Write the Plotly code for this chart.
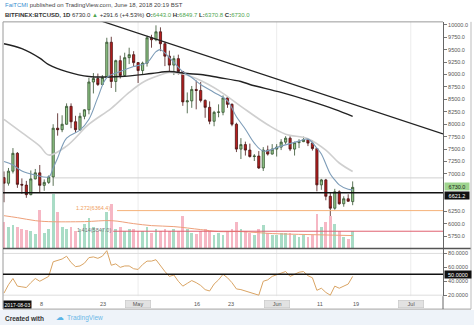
import plotly.graph_objects as go
import pandas as pd

W, H = 474, 327
FONT = "Liberation Sans, Arial, sans-serif"

# ---------------- data ----------------
dates = pd.date_range("2018-04-01", periods=79, freq="D")

opens = [6926, 6813, 7056, 7415, 6790, 6776, 6583, 6900, 7022, 6770,
         6830, 6940, 7920, 7890, 8000, 8360, 8050, 7890, 8160, 8290,
         8850, 8920, 8800, 8940, 9650, 8860, 9280, 8980, 9340, 9400,
         9240, 9080, 9230, 9740, 9700, 9860, 9620, 9370, 9190, 9320,
         9060, 8450, 8470, 8700, 8680, 8480, 8340, 8060, 8240, 8240,
         8530, 8400, 8000, 7500, 7590, 7480, 7350, 7360, 7120, 7480,
         7400, 7500, 7540, 7640, 7720, 7500, 7630, 7650, 7690, 7620,
         7510, 6780, 6880, 6550, 6310, 6640, 6400, 6500, 6443]
highs = [7050, 7120, 7520, 7440, 6910, 6860, 7070, 7100, 7180, 6890,
         6970, 8000, 8220, 8180, 8420, 8420, 8170, 8230, 8300, 8930,
         9030, 9020, 8990, 9740, 9760, 9300, 9380, 9440, 9540, 9470,
         9250, 9260, 9780, 9800, 9990, 9950, 9660, 9480, 9380, 9400,
         9070, 8640, 8770, 8880, 8850, 8500, 8460, 8270, 8400, 8580,
         8560, 8420, 8030, 7720, 7650, 7610, 7400, 7460, 7540, 7570,
         7600, 7600, 7700, 7760, 7760, 7650, 7700, 7750, 7700, 7680,
         7510, 6900, 6900, 6630, 6700, 6670, 6550, 6590, 6849.7]
lows = [6430, 6765, 7010, 6720, 6600, 6520, 6570, 6890, 6620, 6660,
        6800, 6760, 7770, 7840, 7990, 7920, 7830, 7870, 8100, 8200,
        8620, 8770, 8790, 8930, 8730, 8650, 8920, 8950, 9210, 9170,
        8830, 9000, 9160, 9540, 9670, 9470, 9170, 9050, 8990, 9000,
        8370, 8220, 8330, 8300, 8440, 8130, 8000, 7960, 8140, 8180,
        8330, 7960, 7440, 7300, 7370, 7330, 7260, 7100, 7060, 7370,
        7390, 7350, 7480, 7600, 7460, 7370, 7520, 7640, 7560, 7470,
        6650, 6680, 6470, 6110, 6280, 6380, 6340, 6440, 6370.8]
closes = [6813, 7056, 7415, 6790, 6776, 6583, 6900, 7022, 6770, 6830,
          6940, 7920, 7890, 8000, 8360, 8050, 7890, 8160, 8290, 8850,
          8920, 8800, 8940, 9650, 8860, 9280, 8980, 9340, 9400, 9240,
          9080, 9230, 9740, 9700, 9860, 9620, 9370, 9190, 9320, 9060,
          8450, 8470, 8700, 8680, 8480, 8340, 8060, 8240, 8245, 8530,
          8400, 8000, 7500, 7590, 7480, 7350, 7360, 7120, 7480, 7400,
          7500, 7540, 7640, 7720, 7500, 7630, 7650, 7690, 7620, 7510,
          6780, 6880, 6550, 6310, 6640, 6400, 6500, 6450, 6730]

volumes = [27, 22, 24, 22, 20, 19, 18, 15, 39, 16,
           20, 55, 37, 22, 20, 22, 18, 20, 25, 31,
           22, 18, 20, 37, 45, 20, 22, 18, 20, 20,
           18, 18, 22, 16, 20, 18, 20, 18, 20, 18,
           33, 20, 16, 15, 18, 20, 18, 14, 16, 14,
           18, 20, 27, 20, 18, 16, 14, 20, 24, 16,
           14, 14, 16, 16, 16, 14, 12, 14, 12, 14,
           35, 22, 27, 33, 25, 18, 12, 10, 18]

rsi = [23, 35, 44, 33, 32, 31, 38, 44, 40, 43,
       47, 68, 70, 72, 76, 67, 61, 62, 66, 74,
       75, 73, 76, 84, 63, 65, 60, 62, 62, 58,
       57, 64, 69, 69, 71, 62, 54, 47, 49, 40,
       33, 37, 41, 38, 34, 28, 26, 36, 42, 50,
       45, 38, 29, 28, 26, 25, 22, 20, 40, 42,
       47, 49, 52, 54, 47, 50, 53, 54, 48, 45,
       27, 30, 24, 20, 33, 30, 33, 36, 47]

ma_short_dates = ["2018-04-01", "2018-04-03", "2018-04-05", "2018-04-08", "2018-04-11",
                  "2018-04-12", "2018-04-13", "2018-04-15", "2018-04-18", "2018-04-20",
                  "2018-04-22", "2018-04-24", "2018-04-27", "2018-04-30", "2018-05-03",
                  "2018-05-05", "2018-05-06", "2018-05-08", "2018-05-11", "2018-05-13",
                  "2018-05-15", "2018-05-18", "2018-05-21", "2018-05-23", "2018-05-25",
                  "2018-05-27", "2018-05-29", "2018-06-02", "2018-06-06", "2018-06-08",
                  "2018-06-10", "2018-06-11", "2018-06-12", "2018-06-13", "2018-06-14",
                  "2018-06-15", "2018-06-17", "2018-06-18"]
ma_short = [7250, 7180, 7060, 6980, 6940, 7120, 7320, 7720, 7880, 8100,
            8540, 8940, 9060, 9160, 9240, 9460, 9500, 9340, 9060, 8940,
            8800, 8640, 8470, 8150, 7900, 7620, 7460, 7560, 7660, 7700,
            7520, 7400, 7200, 7000, 6880, 6780, 6690, 6680]

ma_mid_dates = ["2018-04-01", "2018-04-05", "2018-04-09", "2018-04-11", "2018-04-15",
                "2018-04-20", "2018-04-25", "2018-04-29", "2018-05-02", "2018-05-05",
                "2018-05-08", "2018-05-11", "2018-05-15", "2018-05-19", "2018-05-24",
                "2018-05-30", "2018-06-03", "2018-06-08", "2018-06-12", "2018-06-15",
                "2018-06-18"]
ma_mid = [8100, 7830, 7560, 7380, 7560, 8000, 8320, 8640, 8840, 8960,
          9040, 9010, 8880, 8680, 8360, 7990, 7800, 7710, 7480, 7220, 7050]

ma_long_dates = ["2018-04-01", "2018-04-05", "2018-04-09", "2018-04-11", "2018-04-15",
                 "2018-04-20", "2018-04-27", "2018-05-04", "2018-05-08", "2018-05-12",
                 "2018-05-15", "2018-05-19", "2018-05-24", "2018-05-26", "2018-06-02",
                 "2018-06-08", "2018-06-14", "2018-06-18"]
ma_long = [9620, 9520, 9330, 9200, 9060, 8960, 8960, 9020, 9060, 9020,
           9000, 8940, 8860, 8800, 8640, 8480, 8300, 8160]

vol_ma_dates = ["2018-04-01", "2018-04-04", "2018-04-08", "2018-04-11", "2018-04-19",
                "2018-04-25", "2018-04-30", "2018-05-04", "2018-05-09", "2018-05-15",
                "2018-05-19", "2018-05-24", "2018-05-31", "2018-06-08", "2018-06-18"]
vol_ma = [33, 31, 28, 27, 27, 28, 25, 23, 22, 19, 17, 17, 15, 14, 13]

trend_dates = ["2018-04-22 12:00", "2018-07-08 05:00"]
trend_prices = [10084, 7806]

support_level = 6621.2
ray_start, ray_level = "2018-04-12", 6920
fib1_start, fib1_level, fib1_text = "2018-04-26 07:00", 6262, "1.272(6364.4)"
fib2_start, fib2_level, fib2_text = "2018-04-25 10:00", 5847.0, "1.414(5847.0)"

# 6500/6750 labels are hidden behind the last-value boxes in the reference
price_ticks = [5750, 6000, 6250, 7000, 7250, 7500, 7750, 8000,
               8250, 8500, 8750, 9000, 9250, 9500, 9750, 10000]
rsi_ticks = [20, 40, 60, 80]

time_tick_dates = ["2018-04-09 06:40", "2018-04-23 03:30", "2018-05-01", "2018-05-14 04:20",
                   "2018-05-21 18:40", "2018-06-01", "2018-06-10 16:30", "2018-06-18 18:00",
                   "2018-07-01"]
time_tick_text = ["8", "23", "May", "16", "23", "Jun", "11", "19", "Jul"]
month_ticks = {"May", "Jun", "Jul"}

x_range = ["2018-03-31 18:38", "2018-07-08 05:02"]

# ---------------- helpers (pixel -> paper) ----------------
def px(x):
    return x / W

def py(y):
    return 1 - y / H

X0, X1 = 3, 443          # plot area horizontal pixel bounds
P_TOP, P_BOT = 22, 250   # price pane
R_TOP, R_BOT = 251, 298  # rsi pane

fig = go.Figure()

vol_colors = ["#a9dcc6" if c >= o else "#f6b7c4" for o, c in zip(opens, closes)]
fig.add_trace(go.Bar(x=dates, y=volumes, marker=dict(color=vol_colors, line=dict(width=0)),
                     width=0.62 * 86400000, xaxis="x", yaxis="y3", showlegend=False))
fig.add_trace(go.Scatter(x=vol_ma_dates, y=vol_ma, mode="lines", line=dict(color="#eea07a", width=1, shape="spline"),
                         xaxis="x", yaxis="y3", showlegend=False))

fig.add_trace(go.Scatter(x=ma_mid_dates, y=ma_mid, mode="lines",
                         line=dict(color="#cfcfcf", width=1.6, shape="spline"), showlegend=False))
fig.add_trace(go.Scatter(x=ma_long_dates, y=ma_long, mode="lines",
                         line=dict(color="#222222", width=1.4, shape="spline"), showlegend=False))
fig.add_trace(go.Scatter(x=ma_short_dates, y=ma_short, mode="lines",
                         line=dict(color="#7d9cb8", width=1.1, shape="spline"), showlegend=False))
fig.add_trace(go.Scatter(x=trend_dates, y=trend_prices, mode="lines",
                         line=dict(color="#222222", width=1.3), showlegend=False))

fig.add_trace(go.Candlestick(
    x=dates, open=opens, high=highs, low=lows, close=closes,
    increasing=dict(line=dict(color="#33502f", width=0.8), fillcolor="#93c98a"),
    decreasing=dict(line=dict(color="#4a1414", width=0.8), fillcolor="#b81d1d"),
    whiskerwidth=0, showlegend=False))

fig.add_trace(go.Scatter(x=dates, y=rsi, mode="lines", line=dict(color="#d9a464", width=1),
                         xaxis="x", yaxis="y2", showlegend=False))

price_lo = 10000 - (P_BOT - 25) * 20
price_hi = 10000 - (P_TOP - 25) * 20
rsi_hi = 80 + (255 - R_TOP) / 0.7
rsi_lo = 20 - (R_BOT - 297) / 0.7

axis_font = dict(family=FONT, size=5.5, color="#555555")
fig.update_layout(
    width=W, height=H, margin=dict(l=0, r=0, t=0, b=0),
    paper_bgcolor="white", plot_bgcolor="white",
    font=dict(family=FONT, color="#444"),
    bargap=0,
    xaxis=dict(domain=[px(X0), px(X1)], type="date", range=x_range, showticklabels=False,
               showgrid=False, zeroline=False, ticks="", rangeslider=dict(visible=False),
               anchor="y2", showline=False),
    yaxis=dict(domain=[py(P_BOT), py(P_TOP)], range=[price_lo, price_hi], side="right", anchor="x",
               tickvals=price_ticks, tickformat=".1f", tickfont=axis_font, ticks="outside",
               ticklen=3, tickcolor="#777", showgrid=False, zeroline=False,
               showline=True, linecolor="#666", linewidth=1),
    yaxis3=dict(overlaying="y", range=[0, P_BOT - P_TOP], visible=False),
    yaxis2=dict(domain=[py(R_BOT), py(R_TOP)], range=[rsi_lo, rsi_hi], side="right", anchor="x",
                tickvals=rsi_ticks, tickformat=".4f", tickfont=axis_font, ticks="outside",
                ticklen=3, tickcolor="#777", showgrid=False, zeroline=False,
                showline=True, linecolor="#666", linewidth=1),
    showlegend=False,
)

shapes = []
# footer band
shapes.append(dict(type="rect", xref="paper", yref="paper", x0=0, x1=1, y0=0, y1=py(312),
                   fillcolor="#eef3f9", line=dict(width=0), layer="below"))
# month gridlines
for d in ["2018-05-01", "2018-06-01", "2018-07-01"]:
    shapes.append(dict(type="line", xref="x", yref="paper", x0=d, x1=d, y0=py(R_BOT), y1=py(P_TOP),
                       line=dict(color="#ececec", width=1), layer="below"))
# borders
shapes.append(dict(type="line", xref="paper", yref="paper", x0=px(X0), x1=px(X1), y0=py(P_TOP), y1=py(P_TOP),
                   line=dict(color="#9a9a9a", width=1)))
shapes.append(dict(type="line", xref="paper", yref="paper", x0=px(X0), x1=px(X0), y0=py(311), y1=py(P_TOP),
                   line=dict(color="#9a9a9a", width=1)))
shapes.append(dict(type="line", xref="paper", yref="paper", x0=px(X0), x1=px(471), y0=py(250), y1=py(250),
                   line=dict(color="#555555", width=1.4)))
shapes.append(dict(type="line", xref="paper", yref="paper", x0=px(X0), x1=px(471), y0=py(311), y1=py(311),
                   line=dict(color="#a0a0a0", width=1)))
shapes.append(dict(type="line", xref="paper", yref="paper", x0=px(X1), x1=px(X1), y0=py(311), y1=py(R_BOT),
                   line=dict(color="#666", width=1)))
shapes.append(dict(type="line", xref="paper", yref="paper", x0=px(471), x1=px(471), y0=py(311), y1=py(P_TOP),
                   line=dict(color="#bbbbbb", width=1)))
# rsi faint band lines
for lvl in [80, 20]:
    shapes.append(dict(type="line", xref="x domain", yref="y2", x0=0, x1=1, y0=lvl, y1=lvl,
                       line=dict(color="#dddddd", width=1), layer="below"))
shapes.append(dict(type="line", xref="x domain", yref="y2", x0=0, x1=1, y0=50, y1=50,
                   line=dict(color="#111111", width=1.4)))
# price horizontals
shapes.append(dict(type="line", xref="x", yref="y", x0=ray_start, x1=x_range[1], y0=ray_level, y1=ray_level,
                   line=dict(color="#d0d0d0", width=1), layer="below"))
shapes.append(dict(type="line", xref="x domain", yref="y", x0=0, x1=1, y0=support_level, y1=support_level,
                   line=dict(color="#111111", width=1.4)))
shapes.append(dict(type="line", xref="x", yref="y", x0=fib1_start, x1=x_range[1], y0=fib1_level, y1=fib1_level,
                   line=dict(color="#f5b27a", width=1)))
shapes.append(dict(type="line", xref="x", yref="y", x0=fib2_start, x1=x_range[1], y0=fib2_level, y1=fib2_level,
                   line=dict(color="#e06070", width=1)))
fig.update_layout(shapes=shapes)

ann = []
GREEN = "#4fa64f"
ann.append(dict(xref="paper", yref="paper", x=px(3), y=py(5.5), xanchor="left", yanchor="middle", showarrow=False,
                text='<span style="color:#3a8fd0">FaiTCMI</span> published on TradingView.com, June 18, 2018 20:19 BST',
                font=dict(family=FONT, size=6, color="#444")))
ann.append(dict(xref="paper", yref="paper", x=px(3), y=py(15), xanchor="left", yanchor="middle", showarrow=False,
                text=('<b>BITFINEX:BTCUSD, 1D</b> 6730.0 <span style="color:%s">▲</span> +291.6 (+4.53%%) '
                      '<b>O:</b><span style="color:%s">6443.0</span> <b>H:</b><span style="color:%s">6849.7</span> '
                      '<b>L:</b><span style="color:%s">6370.8</span> <b>C:</b><span style="color:%s">6730.0</span>')
                % (GREEN, GREEN, GREEN, GREEN, GREEN),
                font=dict(family=FONT, size=6, color="#333")))
# fib labels
ann.append(dict(xref="paper", yref="paper", x=px(112), y=py(209), xanchor="right", yanchor="middle", showarrow=False,
                text=fib1_text, font=dict(family=FONT, size=5.5, color="#f0a060")))
ann.append(dict(xref="paper", yref="paper", x=px(113), y=py(231), xanchor="right", yanchor="middle", showarrow=False,
                text=fib2_text, font=dict(family=FONT, size=5.5, color="#777777")))
# right-axis value boxes
ann.append(dict(xref="paper", yref="paper", x=px(443.5), y=py(188), xanchor="left", yanchor="middle", showarrow=False,
                text="6730.0", width=24, height=7, bgcolor="#9fd58f", borderpad=0,
                font=dict(family=FONT, size=5.5, color="#1a1a1a")))
ann.append(dict(xref="paper", yref="paper", x=px(443.5), y=py(197), xanchor="left", yanchor="middle", showarrow=False,
                text="6621.2", width=24, height=7, bgcolor="#111111", borderpad=0,
                font=dict(family=FONT, size=5.5, color="white")))
ann.append(dict(xref="paper", yref="paper", x=px(443.5), y=py(276), xanchor="left", yanchor="middle", showarrow=False,
                text="50.0000", width=26, height=7, bgcolor="#111111", borderpad=0,
                font=dict(family=FONT, size=5.5, color="white")))
# time axis labels
for d, t in zip(time_tick_dates, time_tick_text):
    if t in month_ticks:
        ann.append(dict(xref="x", yref="paper", x=d, y=py(306), xanchor="center", yanchor="middle",
                        showarrow=False, text=t, width=25, height=7, bgcolor="#e2e2e2",
                        bordercolor="#c4c4c4", borderwidth=0.6, borderpad=0,
                        font=dict(family=FONT, size=5.5, color="#555")))
    else:
        ann.append(dict(xref="x", yref="paper", x=d, y=py(306), xanchor="center", yanchor="middle",
                        showarrow=False, text=t, font=dict(family=FONT, size=5.5, color="#555")))
ann.append(dict(xref="paper", yref="paper", x=px(3), y=py(306.5), xanchor="left", yanchor="middle", showarrow=False,
                text="2017-08-03", width=27, height=7, bgcolor="#111111", borderpad=0,
                font=dict(family=FONT, size=5, color="white")))
# footer
ann.append(dict(xref="paper", yref="paper", x=px(3), y=py(320), xanchor="left", yanchor="middle", showarrow=False,
                text="<b>Created with</b>", font=dict(family=FONT, size=6.5, color="#333")))
ann.append(dict(xref="paper", yref="paper", x=px(54), y=py(319.5), xanchor="left", yanchor="middle", showarrow=False,
                text="☁", font=dict(family="DejaVu Sans", size=8, color="#5ab4e6")))
ann.append(dict(xref="paper", yref="paper", x=px(65), y=py(320), xanchor="left", yanchor="middle", showarrow=False,
                text="TradingView", font=dict(family=FONT, size=6.5, color="#6cb8e8")))
fig.update_layout(annotations=ann)

fig.write_html("out.html")
